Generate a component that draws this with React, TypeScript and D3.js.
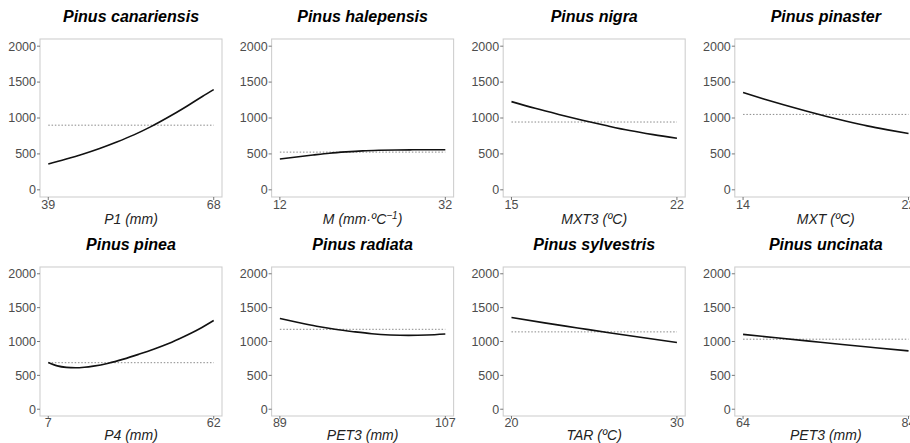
import * as React from 'react';
import * as d3 from 'd3';

// Panel titles, axis titles and x extents (only the ends are labelled)
const species = [
  'Pinus canariensis', 'Pinus halepensis', 'Pinus nigra', 'Pinus pinaster',
  'Pinus pinea', 'Pinus radiata', 'Pinus sylvestris', 'Pinus uncinata',
];
const xTitles = ['P1 (mm)', 'M (mm·ºC', 'MXT3 (ºC)', 'MXT (ºC)', 'P4 (mm)', 'PET3 (mm)', 'TAR (ºC)', 'PET3 (mm)'];
const xExtents: [number, number][] = [[39, 68], [12, 32], [15, 22], [14, 22], [7, 62], [89, 107], [20, 30], [64, 84]];
// Mean (dotted) reference lines
const refLevels = [900, 525, 944, 1050, 687, 1180, 1142, 1034];
const yTicks = [0, 500, 1000, 1500, 2000];

// Fitted response curves, [x, y]
const canariensis = [[39, 360], [42, 425], [45, 495], [48, 575], [51, 665], [54, 765], [57, 880], [60, 1010], [63, 1150], [66, 1300], [68, 1395]];
const halepensis = [[12, 430], [14, 458], [16, 485], [18, 510], [20, 528], [22, 542], [24, 550], [26, 555], [28, 557], [30, 558], [32, 558]];
const nigra = [[15, 1228], [16, 1135], [17, 1050], [18, 970], [19, 895], [20, 825], [21, 768], [22, 718]];
const pinaster = [[14, 1355], [15, 1265], [16, 1180], [17, 1100], [18, 1025], [19, 955], [20, 890], [21, 835], [22, 785]];
const pinea = [[7, 690], [10, 640], [13, 618], [16, 612], [19, 620], [22, 637], [27, 680], [32, 740], [37, 810], [42, 885], [47, 970], [52, 1070], [57, 1180], [62, 1310]];
const radiata = [[89, 1340], [91, 1280], [93, 1225], [95, 1180], [97, 1145], [99, 1115], [101, 1097], [103, 1090], [105, 1095], [107, 1110]];
const sylvestris = [[20, 1355], [22, 1275], [24, 1200], [26, 1125], [28, 1055], [30, 985]];
const uncinata = [[64, 1105], [68, 1055], [72, 1005], [76, 955], [80, 908], [84, 862]];
const curves = [canariensis, halepensis, nigra, pinaster, pinea, radiata, sylvestris, uncinata];

const W = 910;
const H = 443;
const panelW = 182;
const colStep = 231.6;
const rows = [
  {top: 39, bottom: 197, titleY: 22, tickY: 209, labelY: 224},
  {top: 267, bottom: 416, titleY: 250, tickY: 427, labelY: 440},
];
const font = 'Liberation Sans, Arial, sans-serif';

const Panel = ({i}: {i: number}) => {
  const row = rows[Math.floor(i / 4)];
  const left = 40 + (i % 4) * colStep;
  const right = left + panelW;
  const [x0, x1] = xExtents[i];
  const pad = (x1 - x0) * 0.05;
  const x = d3.scaleLinear().domain([x0 - pad, x1 + pad]).range([left, right]);
  const y = d3.scaleLinear().domain([-100, 2100]).range([row.bottom, row.top]);
  const line = d3.line<number[]>()
    .x(d => x(d[0]))
    .y(d => y(d[1]))
    .curve(d3.curveMonotoneX);
  const cx = (left + right) / 2;

  return (
    <g>
      <text x={cx} y={row.titleY} textAnchor="middle" fontFamily={font} fontSize={16}
        fontWeight="bold" fontStyle="italic" fill="#000">{species[i]}</text>
      <rect x={left} y={row.top} width={panelW} height={row.bottom - row.top}
        fill="#fff" stroke="#cfcfcf" strokeWidth={1.1}/>
      {yTicks.map(t => (
        <g key={t}>
          <line x1={left - 3} x2={left} y1={y(t)} y2={y(t)} stroke="#555" strokeWidth={0.8}/>
          <text x={left - 4} y={y(t)} dy="0.35em" textAnchor="end" fontFamily={font}
            fontSize={12.5} fill="#4d4d4d">{t}</text>
        </g>
      ))}
      {xExtents[i].map(t => (
        <g key={t}>
          <line x1={x(t)} x2={x(t)} y1={row.bottom} y2={row.bottom + 3} stroke="#555" strokeWidth={0.8}/>
          <text x={x(t)} y={row.tickY} textAnchor="middle" fontFamily={font}
            fontSize={12.5} fill="#4d4d4d">{t}</text>
        </g>
      ))}
      <line x1={x(x0)} x2={x(x1)} y1={y(refLevels[i])} y2={y(refLevels[i])}
        stroke="#8a8a8a" strokeWidth={1} strokeDasharray="1.5,1.8"/>
      <path d={line(curves[i] as number[][]) || ''} fill="none" stroke="#111" strokeWidth={1.6}/>
      <text x={cx} y={row.labelY} textAnchor="middle" fontFamily={font} fontSize={14}
        fontStyle="italic" fill="#222">
        {xTitles[i]}
        {i === 1 && <><tspan dy={-5} fontSize={10}>−1</tspan><tspan dy={5}>)</tspan></>}
      </text>
    </g>
  );
};

export default function App() {
  return (
    <div style={{position: 'absolute', left: 0, top: 0}}>
      <svg width={W} height={H} style={{display: 'block', background: '#fff'}}>
        {species.map((_, i) => <Panel key={i} i={i}/>)}
      </svg>
    </div>
  );
}
